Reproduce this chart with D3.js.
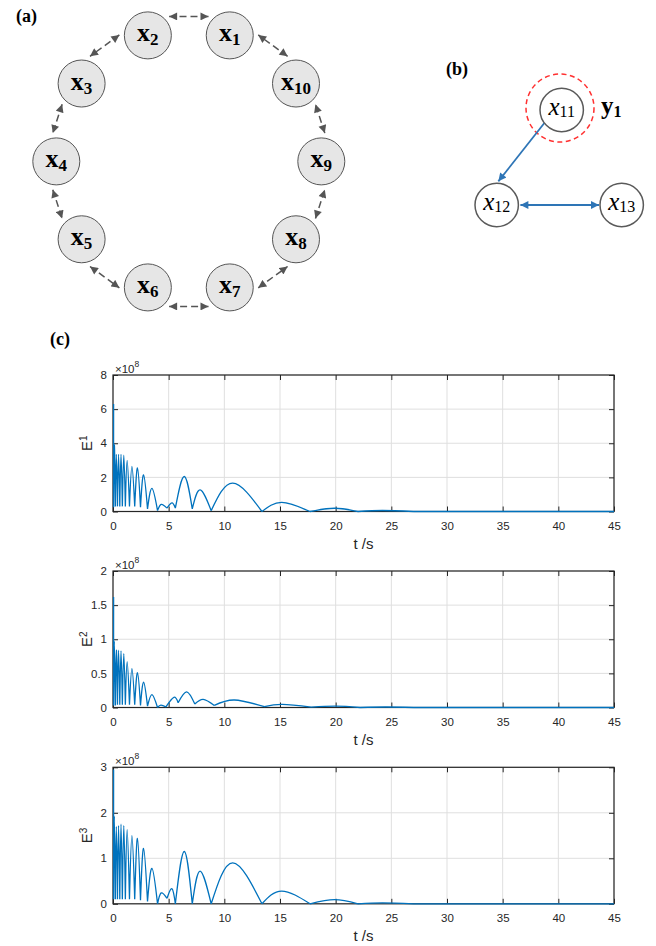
<!DOCTYPE html>
<html>
<head>
<meta charset="utf-8">
<script src="https://cdn.jsdelivr.net/npm/d3@7/dist/d3.min.js"></script>
<style>
body { margin: 0; background: #fff; }
svg { display: block; }
</style>
</head>
<body>
<div id="container"></div>
<script>
// ---- data ----
// (a) ring of nodes, in order around the ring (subscripts)
var ringNodes = ["1", "2", "3", "4", "5", "6", "7", "8", "9", "10"];
// (b) small graph
var subNodes = ["11", "12", "13"];
var subLinks = [["11", "12", "one"], ["12", "13", "both"]];
var pinnedLabel = "1";   // y_1 sits on x_11

// (c) time points of the turning points, alternating peak / trough (s)
var tA = [0, 0.05, 0.12, 0.21, 0.3, 0.4, 0.5, 0.61, 0.72, 0.84, 0.97, 1.11, 1.27, 1.48, 1.7, 1.95,
          2.2, 2.47, 2.75, 3.1, 3.5, 4.0, 4.33, 4.85, 5.3, 5.6, 6.4, 7.12, 7.82, 8.82, 10.75, 13.38,
          15.15, 17.7, 19.9, 22.0, 24.2, 27.0, 45];
var tB = [0, 0.05, 0.12, 0.21, 0.3, 0.4, 0.5, 0.61, 0.72, 0.84, 0.97, 1.11, 1.27, 1.48, 1.7, 1.95,
          2.2, 2.47, 2.75, 3.1, 3.5, 4.0, 4.3, 4.75, 5.47, 5.85, 6.62, 7.35, 8.1, 9.1, 10.9, 13.6,
          15.2, 17.8, 20.0, 22.2, 24.5, 27.0, 45];
// values in units of 1e8
var e1 = [6.3, 0.25, 3.9, 0.3, 3.35, 0.3, 3.35, 0.3, 3.35, 0.3, 3.3, 0.3, 3.0, 0.3, 2.65, 0.3,
          2.55, 0.25, 2.15, 0.15, 1.35, 0.05, 0.42, 0.2, 0.5, 0.2, 2.05, 0.15, 1.27, 0.05, 1.66, 0,
          0.53, 0, 0.19, 0, 0.06, 0, 0];
var e2 = [1.62, 0.03, 0.97, 0.03, 0.84, 0.04, 0.84, 0.04, 0.83, 0.04, 0.79, 0.04, 0.67, 0.04, 0.57, 0.04,
          0.51, 0.03, 0.37, 0.02, 0.19, 0, 0.035, 0.01, 0.15, 0.07, 0.23, 0.05, 0.12, 0.03, 0.11, 0.012,
          0.045, 0.005, 0.02, 0, 0.007, 0, 0];
var e3 = [2.95, 0.1, 1.92, 0.1, 1.7, 0.1, 1.72, 0.1, 1.75, 0.1, 1.72, 0.1, 1.63, 0.1, 1.5, 0.1,
          1.44, 0.08, 1.22, 0.05, 0.78, 0, 0.24, 0.12, 0.33, 0, 1.15, 0, 0.72, 0, 0.9, 0,
          0.28, 0, 0.09, 0, 0.02, 0, 0];

var xTicks = [0, 5, 10, 15, 20, 25, 30, 35, 40, 45];
var yTicks1 = [0, 2, 4, 6, 8];
var yTicks2 = [0, 0.5, 1, 1.5, 2];
var yTicks3 = [0, 1, 2, 3];
var yTickLabels2 = ["0", "0.5", "1", "1.5", "2"];
var yLabels = ["1", "2", "3"];   // E superscripts

// ---- drawing ----
var W = 656, H = 946;
var svg = d3.select("#container").append("svg")
    .attr("width", W).attr("height", H)
    .attr("viewBox", "0 0 " + W + " " + H);

var defs = svg.append("defs");
function marker(id, color, w, h) {
    defs.append("marker")
        .attr("id", id)
        .attr("viewBox", "0 0 10 10")
        .attr("refX", 10).attr("refY", 5)
        .attr("markerUnits", "userSpaceOnUse")
        .attr("markerWidth", w).attr("markerHeight", h)
        .attr("orient", "auto-start-reverse")
        .append("path")
        .attr("d", "M0,0L10,5L0,10z")
        .attr("fill", color);
}
marker("arrGray", "#555", 9, 8);
marker("arrBlue", "#2e75b6", 10, 8);

var serif = "'Liberation Serif', 'Times New Roman', serif";
var sans = "'Liberation Sans', Arial, Helvetica, sans-serif";

function panelLabel(txt, x, y) {
    svg.append("text").attr("x", x).attr("y", y)
        .style("font-family", serif).style("font-weight", "bold").style("font-size", "18px")
        .text(txt);
}
panelLabel("(a)", 16, 22);
panelLabel("(b)", 446, 75);
panelLabel("(c)", 50, 345);

// ---- (a) ring ----
var ring = { cx: 188.8, cy: 161.4, R: 132.5, r: 23.5, gap: 5 };
var ga = svg.append("g");
var ringPos = ringNodes.map(function(name, i) {
    var ang = (72 + 36 * i) * Math.PI / 180;
    return { name: name, ang: ang, x: ring.cx + ring.R * Math.cos(ang), y: ring.cy - ring.R * Math.sin(ang) };
});

ringPos.forEach(function(a, i) {
    var b = ringPos[(i + 1) % ringPos.length];
    var angB = a.ang + 36 * Math.PI / 180;
    var mid = (a.ang + angB) / 2;
    var d = 9 + 10 * Math.abs(Math.sin(mid));
    var nx = Math.cos(mid), ny = -Math.sin(mid);
    var dx = b.x - a.x, dy = b.y - a.y, L = Math.sqrt(dx * dx + dy * dy);
    var ux = dx / L, uy = dy / L;
    var s = Math.sqrt(Math.pow(ring.r + ring.gap, 2) - d * d);
    ga.append("line")
        .attr("x1", a.x + d * nx + s * ux).attr("y1", a.y + d * ny + s * uy)
        .attr("x2", b.x + d * nx - s * ux).attr("y2", b.y + d * ny - s * uy)
        .attr("stroke", "#555").attr("stroke-width", 1.5)
        .attr("stroke-dasharray", "7,4")
        .attr("marker-start", "url(#arrGray)")
        .attr("marker-end", "url(#arrGray)");
});

var nodeA = ga.selectAll("g.node").data(ringPos).enter().append("g")
    .attr("transform", function(d) { return "translate(" + d.x + "," + d.y + ")"; });
nodeA.append("circle").attr("r", ring.r)
    .attr("fill", "#e6e6e6").attr("stroke", "#555").attr("stroke-width", 1);
var labA = nodeA.append("text").attr("y", 6).attr("text-anchor", "middle")
    .style("font-family", serif).style("font-weight", "bold");
labA.append("tspan").style("font-size", "26px").text("x");
labA.append("tspan").style("font-size", "17px").attr("dy", 4).text(function(d) { return d.name; });

// ---- (b) graph ----
var subPos = { "11": [561.7, 110], "12": [496.7, 205], "13": [621.7, 205] };
var subR = 21.7;
var gb = svg.append("g");

gb.append("circle").attr("cx", 560).attr("cy", 108).attr("r", 34)
    .attr("fill", "none").attr("stroke", "#ff3030").attr("stroke-width", 1.5)
    .attr("stroke-dasharray", "5,3.5");

subLinks.forEach(function(l) {
    var a = subPos[l[0]], b = subPos[l[1]];
    var x1, y1, x2, y2;
    if (l[2] === "one") {
        // leaves x11 low on its left side and points at the top of x12
        var aa = 143 * Math.PI / 180, ab = -86 * Math.PI / 180;
        x1 = a[0] + subR * Math.cos(aa); y1 = a[1] + subR * Math.sin(aa);
        x2 = b[0] + (subR + 2) * Math.cos(ab); y2 = b[1] + (subR + 2) * Math.sin(ab);
    } else {
        var dx = b[0] - a[0], dy = b[1] - a[1], L = Math.sqrt(dx * dx + dy * dy);
        x1 = a[0] + dx / L * (subR + 2); y1 = a[1] + dy / L * (subR + 2);
        x2 = b[0] - dx / L * (subR + 1); y2 = b[1] - dy / L * (subR + 1);
    }
    var ln = gb.append("line")
        .attr("x1", x1).attr("y1", y1).attr("x2", x2).attr("y2", y2)
        .attr("stroke", "#2e75b6").attr("stroke-width", 1.8)
        .attr("marker-end", "url(#arrBlue)");
    if (l[2] === "both") ln.attr("marker-start", "url(#arrBlue)");
});

var nodeB = gb.selectAll("g.node").data(subNodes).enter().append("g")
    .attr("transform", function(d) { return "translate(" + subPos[d][0] + "," + subPos[d][1] + ")"; });
nodeB.append("circle").attr("r", subR)
    .attr("fill", "#fff").attr("stroke", "#5a5a5a").attr("stroke-width", 1.5);
var labB = nodeB.append("text").attr("y", 5).attr("text-anchor", "middle")
    .style("font-family", serif);
labB.append("tspan").style("font-size", "25px").style("font-style", "italic").text("x");
labB.append("tspan").style("font-size", "16px").attr("dy", 2).text(function(d) { return d; });

var yl = gb.append("text").attr("x", 601).attr("y", 114)
    .style("font-family", serif).style("font-weight", "bold");
yl.append("tspan").style("font-size", "25px").text("y");
yl.append("tspan").style("font-size", "16px").attr("dy", 3).text(pinnedLabel);

// ---- (c) three plots ----
var plot = { left: 113, right: 614, height: 136.5, tops: [375, 571, 767.3] };
var axisColor = "#262626", gridColor = "#dfdfdf", lineColor = "#0072bd";

var x = d3.scaleLinear().domain([0, 45]).range([plot.left, plot.right]);

var series = [
    { t: tA, v: e1, ticks: yTicks1, labels: yTicks1.map(String), max: 8, sup: yLabels[0] },
    { t: tB, v: e2, ticks: yTicks2, labels: yTickLabels2, max: 2, sup: yLabels[1] },
    { t: tA, v: e3, ticks: yTicks3, labels: yTicks3.map(String), max: 3, sup: yLabels[2] }
];

series.forEach(function(s, k) {
    var top = plot.tops[k], bottom = top + plot.height;
    var y = d3.scaleLinear().domain([0, s.max]).range([bottom, top]);
    var g = svg.append("g");

    // grid
    g.selectAll("line.gx").data(xTicks).enter().append("line")
        .attr("x1", x).attr("x2", x).attr("y1", top).attr("y2", bottom)
        .attr("stroke", gridColor).attr("stroke-width", 1);
    g.selectAll("line.gy").data(s.ticks).enter().append("line")
        .attr("x1", plot.left).attr("x2", plot.right).attr("y1", y).attr("y2", y)
        .attr("stroke", gridColor).attr("stroke-width", 1);

    // axes
    var ax = function(sel) {
        sel.select(".domain").remove();
        sel.selectAll(".tick line").attr("stroke", axisColor);
        sel.selectAll(".tick text").attr("fill", axisColor)
            .style("font-family", sans).style("font-size", "11.5px");
    };
    g.append("g").attr("transform", "translate(0," + bottom + ")")
        .call(d3.axisBottom(x).tickValues(xTicks).tickSizeInner(-5).tickSizeOuter(0).tickPadding(10))
        .call(ax);
    g.append("g").attr("transform", "translate(0," + top + ")")
        .call(d3.axisTop(x).tickValues(xTicks).tickSizeInner(-5).tickSizeOuter(0).tickFormat(""))
        .call(ax);
    g.append("g").attr("transform", "translate(" + plot.left + ",0)")
        .call(d3.axisLeft(y).tickValues(s.ticks).tickSizeInner(-5).tickSizeOuter(0).tickPadding(6)
            .tickFormat(function(d, i) { return s.labels[i]; }))
        .call(ax);
    g.append("g").attr("transform", "translate(" + plot.right + ",0)")
        .call(d3.axisRight(y).tickValues(s.ticks).tickSizeInner(-5).tickSizeOuter(0).tickFormat(""))
        .call(ax);

    g.append("rect")
        .attr("x", plot.left).attr("y", top).attr("width", plot.right - plot.left).attr("height", plot.height)
        .attr("fill", "none").attr("stroke", axisColor).attr("stroke-width", 1.2);

    // curve on top of the axes: straight drop from the first spike, then one arch per trough-peak-trough
    var clipId = "clip" + k;
    defs.append("clipPath").attr("id", clipId).append("rect")
        .attr("x", plot.left - 2).attr("y", top - 2).attr("width", plot.right - plot.left + 4).attr("height", plot.height + 4);
    var pts = s.t.map(function(t, i) { return [x(t) + (i === 0 ? 0.6 : 0), y(s.v[i])]; });
    var straight = d3.line();
    var arch = d3.line().curve(d3.curveNatural);
    var path = straight([pts[0], pts[1]]);
    for (var i = 1; i + 2 < pts.length; i += 2) path += arch(pts.slice(i, i + 3));
    path += straight(pts.slice(pts.length - 2));
    g.append("path").attr("d", path)
        .attr("fill", "none").attr("stroke", lineColor).attr("stroke-width", 1.3)
        .attr("stroke-linejoin", "round")
        .attr("clip-path", "url(#" + clipId + ")");

    // exponent
    var ex = g.append("text").attr("x", plot.left + 2).attr("y", top - 2.5)
        .attr("fill", axisColor).style("font-family", sans).style("font-size", "11.5px");
    ex.append("tspan").text("\u00d710");
    ex.append("tspan").attr("dy", -6).style("font-size", "8.5px").text("8");

    // labels
    g.append("text").attr("x", (plot.left + plot.right) / 2).attr("y", bottom + 37.5)
        .attr("text-anchor", "middle").attr("fill", axisColor)
        .style("font-family", sans).style("font-size", "15px").text("t /s");
    var yt = g.append("text")
        .attr("transform", "translate(91.7," + (top + plot.height / 2) + ") rotate(-90)")
        .attr("text-anchor", "middle").attr("fill", axisColor)
        .style("font-family", sans).style("font-size", "15px");
    yt.append("tspan").text("E");
    yt.append("tspan").attr("dy", -5).style("font-size", "10px").text(s.sup);
});
</script>
</body>
</html>
